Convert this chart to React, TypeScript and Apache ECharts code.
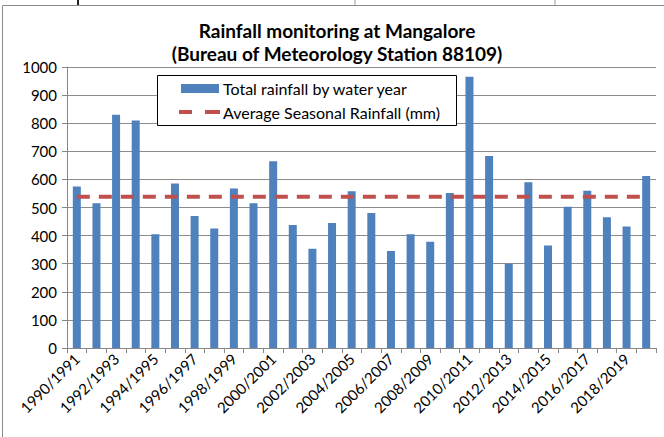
import React, { useEffect, useRef } from "react";
import * as echarts from "echarts";

const categories: string[] = [
  "1990/1991", "1991/1992", "1992/1993", "1993/1994", "1994/1995", "1995/1996",
  "1996/1997", "1997/1998", "1998/1999", "1999/2000", "2000/2001", "2001/2002",
  "2002/2003", "2003/2004", "2004/2005", "2005/2006", "2006/2007", "2007/2008",
  "2008/2009", "2009/2010", "2010/2011", "2011/2012", "2012/2013", "2013/2014",
  "2014/2015", "2015/2016", "2016/2017", "2017/2018", "2018/2019", "2019/2020",
];

const rainfall: number[] = [
  575, 515, 830, 810, 405, 585, 470, 425, 568, 515,
  665, 438, 353, 445, 558, 480, 345, 405, 378, 552,
  965, 683, 300, 590, 365, 503, 560, 465, 432, 612,
];

const averageSeasonal = 538;
const averageValues: number[] = categories.map(() => averageSeasonal);

const seriesNames: string[] = ["Total rainfall by water year", "Average Seasonal Rainfall (mm)"];

const yTicks = { min: 0, max: 1000, interval: 100 };

const FONT = "Lato, 'Open Sans', sans-serif";
const BAR_COLOR = "#4F81BD";
const LINE_COLOR = "#C0504D";

export default function App() {
  const ref = useRef<HTMLDivElement>(null);
  useEffect(() => {
    if (!ref.current) return;
    const chart = echarts.init(ref.current, undefined, { renderer: "svg" });
    chart.setOption({
      animation: false,
      backgroundColor: "#ffffff",
      textStyle: { fontFamily: FONT },
      title: {
        text: "Rainfall monitoring at Mangalore\n(Bureau of Meteorology Station 88109)",
        left: 332,
        textAlign: "center",
        top: 14,
        textStyle: {
          fontFamily: FONT,
          fontSize: 19,
          fontWeight: "bold",
          color: "#000",
          lineHeight: 23,
        },
      },
      grid: { left: 67, right: 8, top: 67, bottom: 89, containLabel: false },
      xAxis: {
        type: "category",
        data: categories,
        boundaryGap: true,
        axisLine: { lineStyle: { color: "#888", width: 1 } },
        axisTick: { show: true, interval: 0, length: 5, lineStyle: { color: "#888" } },
        axisLabel: {
          interval: 1,
          rotate: 45,
          fontSize: 15,
          color: "#000",
          fontFamily: FONT,
          margin: 8,
        },
        splitLine: { show: false },
      },
      yAxis: {
        type: "value",
        min: yTicks.min,
        max: yTicks.max,
        interval: yTicks.interval,
        axisLine: { show: true, lineStyle: { color: "#888" } },
        axisTick: { show: true, length: 5, lineStyle: { color: "#888" } },
        axisLabel: {
          fontSize: 15,
          color: "#000",
          fontFamily: FONT,
          margin: 10,
          formatter: (v: number) => String(v),
        },
        splitLine: { show: true, lineStyle: { color: "#8c8c8c", width: 1 } },
      },
      series: [
        {
          name: seriesNames[0],
          type: "bar",
          data: rainfall,
          barWidth: 8,
          itemStyle: { color: BAR_COLOR },
        },
        {
          name: seriesNames[1],
          type: "line",
          data: averageValues,
          symbol: "none",
          lineStyle: { color: LINE_COLOR, width: 4, type: [13, 9] },
          itemStyle: { color: LINE_COLOR },
        },
      ],
      graphic: [
        {
          type: "rect",
          shape: { x: 2.5, y: 5.5, width: 700, height: 440 },
          style: { fill: "none", stroke: "#8a8a8a", lineWidth: 1 },
          silent: true,
        },
        { type: "line", shape: { x1: 78, y1: 0, x2: 78, y2: 5 }, style: { stroke: "#222", lineWidth: 2 } },
        { type: "line", shape: { x1: 355, y1: 0, x2: 355, y2: 5 }, style: { stroke: "#999", lineWidth: 1 } },
        { type: "line", shape: { x1: 555, y1: 0, x2: 555, y2: 5 }, style: { stroke: "#999", lineWidth: 1 } },
        // legend
        {
          type: "rect",
          z: 10,
          shape: { x: 157.5, y: 75.5, width: 299, height: 50 },
          style: { fill: "#fff", stroke: "#000", lineWidth: 1 },
        },
        {
          type: "rect",
          z: 11,
          shape: { x: 181, y: 84, width: 38, height: 9 },
          style: { fill: BAR_COLOR },
        },
        {
          type: "line",
          z: 11,
          shape: { x1: 179, y1: 112, x2: 192, y2: 112 },
          style: { stroke: LINE_COLOR, lineWidth: 4 },
        },
        {
          type: "line",
          z: 11,
          shape: { x1: 205, y1: 112, x2: 220, y2: 112 },
          style: { stroke: LINE_COLOR, lineWidth: 4 },
        },
        {
          type: "text",
          z: 11,
          x: 223,
          y: 88.5,
          style: {
            text: seriesNames[0],
            font: `16px ${FONT}`,
            fill: "#000",
            verticalAlign: "middle",
            align: "left",
          },
        },
        {
          type: "text",
          z: 11,
          x: 223,
          y: 112.5,
          style: {
            text: seriesNames[1],
            font: `16px ${FONT}`,
            fill: "#000",
            verticalAlign: "middle",
            align: "left",
          },
        },
      ],
    });
    return () => chart.dispose();
  }, []);
  return <div ref={ref} style={{ width: 664, height: 437, position: "absolute", left: 0, top: 0 }} />;
}
